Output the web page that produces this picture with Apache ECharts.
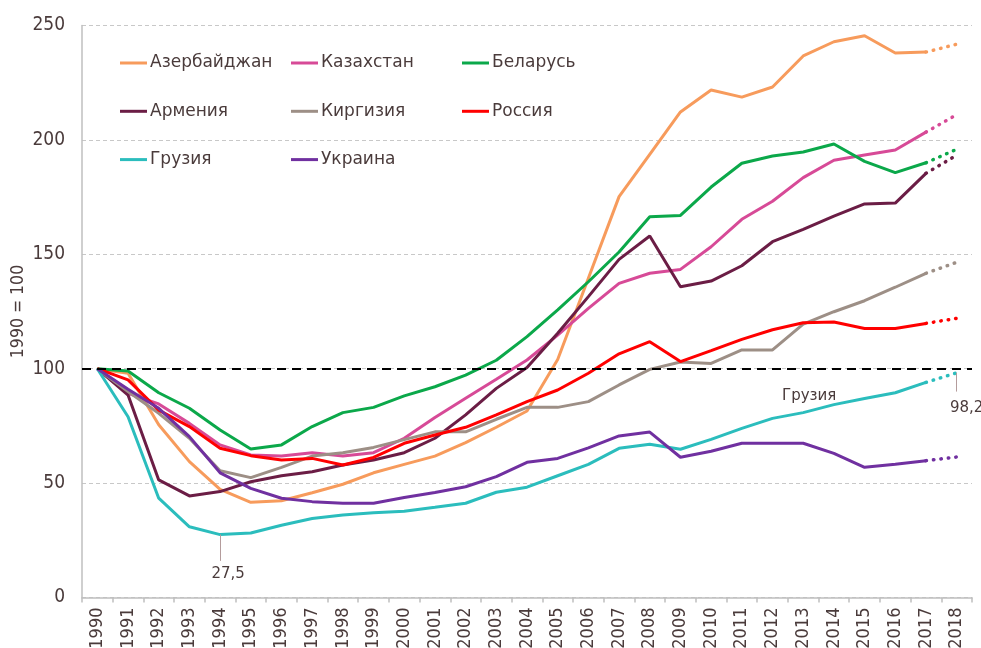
<!DOCTYPE html>
<html>
<head>
<meta charset="utf-8">
<script src="https://cdn.jsdelivr.net/npm/echarts@6/dist/echarts.min.js"></script>
<style>
  html, body { margin: 0; padding: 0; background: #fff; }
  #chart { width: 981px; height: 648px; }
</style>
</head>
<body>
<div id="chart"></div>
<script>
  // 1990..2018, последняя точка (2018) — оценка, рисуется пунктиром
  var years = ['1990', '1991', '1992', '1993', '1994', '1995', '1996', '1997', '1998', '1999',
    '2000', '2001', '2002', '2003', '2004', '2005', '2006', '2007', '2008', '2009',
    '2010', '2011', '2012', '2013', '2014', '2015', '2016', '2017', '2018']

  var azerbaijan = [100, 98, 75.5, 59.4, 47.3, 41.6, 42.3, 45.8, 49.5, 54.5, 58.2, 61.8, 67.7, 74.4, 81.5,
    104, 139.5, 175.2, 193.7, 212.2, 221.8, 218.7, 223.1, 236.7, 242.9, 245.5, 238, 238.4, 241.8]
  var kazakhstan = [100, 89.2, 84.6, 76.1, 66.7, 62.3, 61.8, 63.3, 61.8, 63.3, 69.6, 78.7, 87.1, 95.4, 103.8,
    114.7, 126.4, 137.3, 141.7, 143.4, 153.3, 165.3, 173.2, 183.5, 191.1, 193.4, 195.6, 203.4, 211]
  var belarus = [100, 99, 89.5, 82.7, 73.2, 64.9, 66.7, 74.7, 80.8, 83.1, 88.1, 92.1, 97.2, 103.7, 114,
    125.7, 138, 151, 166.4, 167, 179.4, 189.8, 193, 194.7, 198.2, 190.6, 185.7, 190, 195.9]
  var armenia = [100, 88.5, 51.4, 44.4, 46.3, 50.6, 53.2, 55, 57.9, 60.1, 63.3, 69.6, 79.8, 91.4, 100.5,
    115.5, 131.5, 147.8, 158, 135.8, 138.3, 145, 155.5, 160.9, 166.7, 172, 172.4, 185.4, 193.3]
  var kyrgyzstan = [100, 90, 80.5, 69.6, 55.4, 52.4, 56.9, 61.8, 63.3, 65.6, 69, 72.4, 72.4, 77.9, 83.1,
    83.1, 85.6, 92.9, 99.7, 102.9, 102.3, 108.2, 108.2, 119.5, 124.9, 129.7, 135.6, 141.7, 146.5]
  var russia = [100, 95.1, 81.9, 74.7, 65.2, 62, 60.1, 60.8, 57.9, 61.2, 67.4, 71, 74.4, 79.8, 85.6,
    90.7, 98, 106.5, 111.8, 103.1, 107.9, 112.8, 117, 120.1, 120.4, 117.6, 117.6, 119.8, 122]
  var georgia = [100, 79, 43.4, 30.9, 27.5, 28.2, 31.6, 34.5, 36.1, 37, 37.7, 39.4, 41.2, 46, 48.2,
    53.2, 58.2, 65.2, 67, 64.8, 69.1, 73.9, 78.3, 80.8, 84.3, 87, 89.5, 94, 98.2]
  var ukraine = [100, 91, 82.7, 70.3, 54.5, 47.7, 43.4, 41.9, 41.2, 41.2, 43.7, 45.9, 48.4, 52.8, 59.1,
    60.8, 65.4, 70.6, 72.3, 61.3, 63.9, 67.4, 67.4, 67.4, 63, 56.9, 58.2, 59.8, 61.4]

  var countries = [
    {name: 'Азербайджан', data: azerbaijan, color: '#F79B5C'},
    {name: 'Казахстан', data: kazakhstan, color: '#D74A97'},
    {name: 'Беларусь', data: belarus, color: '#0BA84A'},
    {name: 'Армения', data: armenia, color: '#6B1D45'},
    {name: 'Киргизия', data: kyrgyzstan, color: '#9D8F86'},
    {name: 'Россия', data: russia, color: '#FF0000'},
    {name: 'Грузия', data: georgia, color: '#2BBDBD'},
    {name: 'Украина', data: ukraine, color: '#7030A0'}
  ]

  var textColor = '#4a3b3b'
  var fontFamily = 'DejaVu Sans'
  var fontNarrow = 'DejaVu Sans Condensed'
  var last = years.length - 1

  var series = []
  countries.forEach(function (c) {
    var solid = c.data.map(function (v, i) { return i < last ? v : '-' })
    var dotted = c.data.map(function (v, i) { return i >= last - 1 ? v : '-' })
    var s1 = {
      name: c.name,
      type: 'line',
      data: solid,
      symbol: 'none',
      color: c.color,
      lineStyle: {width: 3, color: c.color},
      animation: false
    }
    var s2 = {
      name: c.name,
      type: 'line',
      data: dotted,
      symbol: 'none',
      color: c.color,
      lineStyle: {width: 3.5, color: c.color, type: [0.5, 7], cap: 'round'},
      animation: false
    }
    if (c.name === 'Грузия') {
      var iMin = c.data.indexOf(Math.min.apply(null, c.data))
      s1.markPoint = {
        symbol: 'circle',
        symbolSize: 0,
        silent: true,
        label: {show: true, color: textColor, fontFamily: fontFamily, fontSize: 15},
        data: [
          {coord: [years[iMin], c.data[iMin]], label: {formatter: '27,5', offset: [8, 40]}},
          {coord: [years[23], c.data[23]], label: {formatter: 'Грузия', offset: [6, -17]}}
        ]
      }
      s1.markLine = {
        symbol: ['none', 'none'],
        silent: true,
        label: {show: false},
        lineStyle: {color: '#b49c9c', width: 1, type: 'solid'},
        data: [[{coord: [years[iMin], c.data[iMin]]}, {coord: [years[iMin], 16]}]]
      }
      s2.markPoint = {
        symbol: 'circle',
        symbolSize: 0,
        silent: true,
        label: {show: true, color: textColor, fontFamily: fontFamily, fontSize: 15},
        data: [{coord: [years[last], c.data[last]], label: {formatter: '98,2', offset: [10, 35]}}]
      }
      s2.markLine = {
        symbol: ['none', 'none'],
        silent: true,
        label: {show: false},
        lineStyle: {color: '#b49c9c', width: 1, type: 'solid'},
        data: [[{coord: [years[last], c.data[last]]}, {coord: [years[last], 90]}]]
      }
    }
    series.push(s1, s2)
  })

  // линия 1990 = 100
  series.push({
    name: 'base',
    type: 'line',
    data: [],
    markLine: {
      symbol: ['none', 'none'],
      silent: true,
      label: {show: false},
      lineStyle: {color: '#000', width: 2, type: [9, 6]},
      data: [{yAxis: 100}]
    },
    animation: false
  })

  function legendCol (names, left) {
    return {
      orient: 'vertical',
      left: left,
      top: 53,
      padding: 0,
      itemWidth: 27,
      itemHeight: 3,
      itemGap: 28.3,
      icon: 'rect',
      data: names,
      textStyle: {color: textColor, fontFamily: fontFamily, fontSize: 17, lineHeight: 20, padding: [0, 0, 0, -2]}
    }
  }

  var option = {
    backgroundColor: '#fff',
    grid: {left: 82, right: 9, top: 25.5, bottom: 50.5, containLabel: false, outerBoundsMode: 'none'},
    legend: [
      legendCol(['Азербайджан', 'Армения', 'Грузия'], 120),
      legendCol(['Казахстан', 'Киргизия', 'Украина'], 291),
      legendCol(['Беларусь', 'Россия'], 462)
    ],
    xAxis: {
      type: 'category',
      data: years,
      boundaryGap: true,
      axisLine: {lineStyle: {color: '#bfbfbf', width: 1.5}},
      axisTick: {show: true, length: 5, lineStyle: {color: '#bfbfbf', width: 1.5}},
      axisLabel: {rotate: 90, interval: 0, margin: 10, color: textColor, fontFamily: fontNarrow, fontSize: 18}
    },
    yAxis: {
      type: 'value',
      min: 0,
      max: 250,
      interval: 50,
      name: '1990 = 100',
      nameLocation: 'middle',
      nameGap: 55,
      nameMoveOverlap: false,
      nameTextStyle: {color: textColor, fontFamily: fontNarrow, fontSize: 17.5},
      axisLine: {show: true, lineStyle: {color: '#bfbfbf', width: 1.5}},
      axisTick: {show: false},
      axisLabel: {margin: 17, color: textColor, fontFamily: fontNarrow, fontSize: 19},
      splitLine: {lineStyle: {color: '#c8c8c8', type: [4, 3]}}
    },
    series: series
  }

  var chart = echarts.init(document.getElementById('chart'))
  chart.setOption(option)
</script>
</body>
</html>
